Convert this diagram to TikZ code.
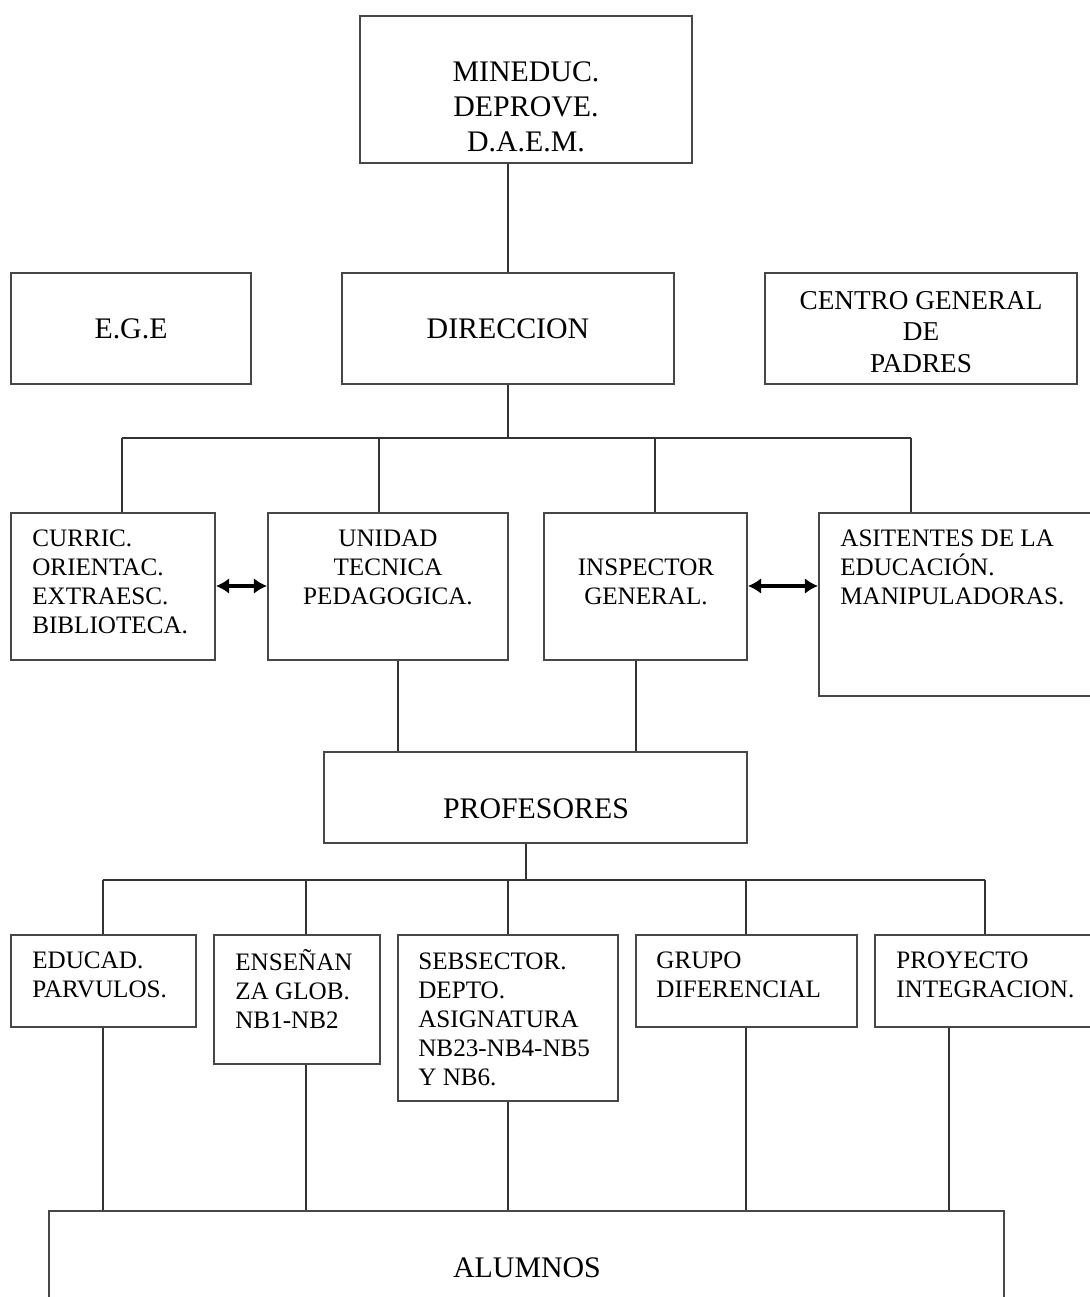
\documentclass[tikz,border=0pt]{standalone}
\usepackage{fontspec}
\setmainfont{Liberation Serif}
\usetikzlibrary{fit,arrows.meta}

\begin{document}
\begin{tikzpicture}[x=0.02cm,y=-0.02cm,
        box/.style={draw=black!72,line width=1.1pt,inner sep=0pt},
        bigtxt/.style={inner sep=0pt,align=center,font=\fontsize{17}{19.8}\selectfont},
        midtxt/.style={inner sep=0pt,align=center,font=\fontsize{15.5}{18}\selectfont},
        smalltxt/.style={inner sep=0pt,font=\fontsize{14.3}{16.5}\selectfont},
        link/.style={draw=black!80,line width=0.9pt},
        both/.style={draw=black,line width=2pt,{Latex[length=7.5pt,width=9pt]}-{Latex[length=7.5pt,width=9pt]}}]
    \useasboundingbox (0,0) rectangle (1089,1297);

    % Top level
    \node[box,fit={(360,16) (692,163)}] (mineduc) {};
    \node[bigtxt] (mineduct) at (526,107) {MINEDUC.\\DEPROVE.\\D.A.E.M.};

    \node[box,fit={(11,273) (251,384)}] (ege) {};
    \node[bigtxt] (eget) at (ege.center) {E.G.E};
    \node[box,fit={(342,273) (674,384)}] (direccion) {};
    \node[bigtxt] (direcciont) at (direccion.center) {DIRECCION};
    \node[box,fit={(765,273) (1077,384)}] (padres) {};
    \node[midtxt] (padrest) at (921,332) {CENTRO GENERAL\\DE\\PADRES};

    % Second level
    \node[box,fit={(11,513) (215,660)}] (curric) {};
    \node[smalltxt,align=left,anchor=west] (currict) at (32,582)
        {CURRIC.\\ORIENTAC.\\EXTRAESC.\\BIBLIOTECA.};
    \node[box,fit={(268,513) (508,660)}] (utp) {};
    \node[smalltxt,align=center] (utpt) at (388,567) {UNIDAD\\TECNICA\\PEDAGOGICA.};
    \node[box,fit={(544,513) (747,660)}] (inspector) {};
    \node[smalltxt,align=center] (inspectort) at (646,582) {INSPECTOR\\GENERAL.};
    \node[box,fit={(819,513) (1100,696)}] (asist) {};
    \node[smalltxt,align=left,anchor=west] (asistt) at (840,567)
        {ASITENTES DE LA\\EDUCACIÓN.\\MANIPULADORAS.};

    % Profesores
    \node[box,fit={(324,752) (747,843)}] (profesores) {};
    \node[bigtxt] (profesorest) at (536,809) {PROFESORES};

    % Third level
    \node[box,fit={(11,935) (196,1027)}] (educad) {};
    \node[smalltxt,align=left,anchor=west] (educadt) at (32,975) {EDUCAD.\\PARVULOS.};
    \node[box,fit={(214,935) (380,1064)}] (ensenanza) {};
    \node[smalltxt,align=left,anchor=west] (ensenanzat) at (235,989) {ENSEÑAN\\ZA GLOB.\\NB1-NB2};
    \node[box,fit={(398,935) (618,1101)}] (sebsector) {};
    \node[smalltxt,align=left,anchor=west] (sebsectort) at (418,1019)
        {SEBSECTOR.\\DEPTO.\\ASIGNATURA\\NB23-NB4-NB5\\Y NB6.};
    \node[box,fit={(636,935) (857,1027)}] (grupo) {};
    \node[smalltxt,align=left,anchor=west] (grupot) at (656,975) {GRUPO\\DIFERENCIAL};
    \node[box,fit={(875,935) (1100,1027)}] (proyecto) {};
    \node[smalltxt,align=left,anchor=west] (proyectot) at (896,975) {PROYECTO\\INTEGRACION.};

    % Alumnos
    \node[box,fit={(49,1211) (1004,1310)}] (alumnos) {};
    \node[bigtxt] (alumnost) at (527,1268) {ALUMNOS};

    % Connectors
    \draw[link] (mineduc.south -| direccion.north) -- (direccion.north);
    \coordinate (bus1) at (508,438);
    \draw[link] (direccion.south) -- (bus1);
    \draw[link] (122,438) -- (911,438);
    \foreach \x/\n in {122/curric,379/utp,655/inspector,911/asist}
        \draw[link] (\x,438) -- (\x,438 |- \n.north);

    \draw[both] (curric.east |- 0,586) -- (utp.west |- 0,586);
    \draw[both] (inspector.east |- 0,586) -- (asist.west |- 0,586);

    \draw[link] (utp.south -| 398,0) -- (profesores.north -| 398,0);
    \draw[link] (inspector.south -| 636,0) -- (profesores.north -| 636,0);

    \coordinate (bus2) at (526,880);
    \draw[link] (profesores.south -| bus2) -- (bus2);
    \draw[link] (103,880) -- (985,880);
    \foreach \x/\n in {103/educad,306/ensenanza,508/sebsector,746/grupo,985/proyecto}
        \draw[link] (\x,880) -- (\x,880 |- \n.north);

    \foreach \x/\n in {103/educad,306/ensenanza,508/sebsector,746/grupo,949/proyecto}
        \draw[link] (\n.south -| \x,0) -- (alumnos.north -| \x,0);
\end{tikzpicture}
\end{document}
